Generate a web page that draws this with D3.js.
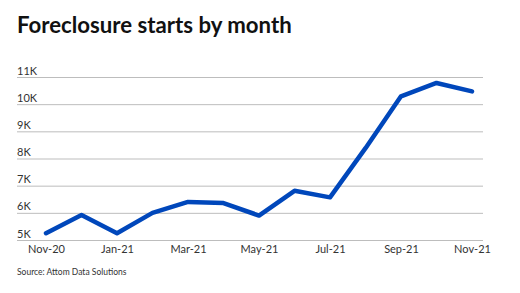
<!DOCTYPE html>
<html><head><meta charset="utf-8">
<script src="https://cdn.jsdelivr.net/npm/d3@7"></script>
<style>body{margin:0;background:#fff;}svg{display:block;font-family:Lato,sans-serif;}</style>
</head><body><svg id="c" width="520" height="293"></svg>
<script>
const months = ["Nov-20","Dec-20","Jan-21","Feb-21","Mar-21","Apr-21","May-21","Jun-21","Jul-21","Aug-21","Sep-21","Oct-21","Nov-21"];
const starts = [5250,5920,5250,6000,6400,6360,5900,6810,6570,8380,10290,10780,10470];
const yTicks = [5000,6000,7000,8000,9000,10000,11000];
const xTickLabels = ["Nov-20","Jan-21","Mar-21","May-21","Jul-21","Sep-21","Nov-21"];

const svg = d3.select("#c");
const x = d3.scalePoint().domain(months).range([46,472]);
const y = d3.scaleLinear().domain([5000,11000]).range([240,77]);

svg.append("text").attr("x",17).attr("y",33).attr("font-size",22.2).attr("font-weight",700).attr("fill","#111").text("Foreclosure starts by month");

const yAxis = svg.append("g").attr("transform","translate(17,0)")
  .call(d3.axisRight(y).tickValues(yTicks).tickSize(466).tickFormat(d=>d/1000+"K"));
yAxis.select(".domain").remove();
yAxis.selectAll(".tick line").attr("stroke","#bdbdbd").attr("stroke-width",1);
yAxis.selectAll(".tick text").attr("x",0).attr("dy",-3).attr("text-anchor","start")
  .attr("font-size",11).attr("font-family","Lato,sans-serif").attr("fill","#333");

const xAxis = svg.append("g").attr("transform","translate(0,240)")
  .call(d3.axisBottom(x).tickValues(xTickLabels).tickSize(0).tickPadding(5));
xAxis.select(".domain").remove();
xAxis.selectAll(".tick text").attr("font-size",11).attr("font-family","Lato,sans-serif").attr("fill","#333");

svg.append("path").datum(starts)
  .attr("d", d3.line().x((d,i)=>x(months[i])).y(d=>y(d)))
  .attr("fill","none").attr("stroke","#0047bb").attr("stroke-width",4.5)
  .attr("stroke-linejoin","round").attr("stroke-linecap","round");

svg.append("text").attr("x",17).attr("y",275).attr("font-size",8.5).attr("fill","#333").text("Source: Attom Data Solutions");
</script></body></html>
